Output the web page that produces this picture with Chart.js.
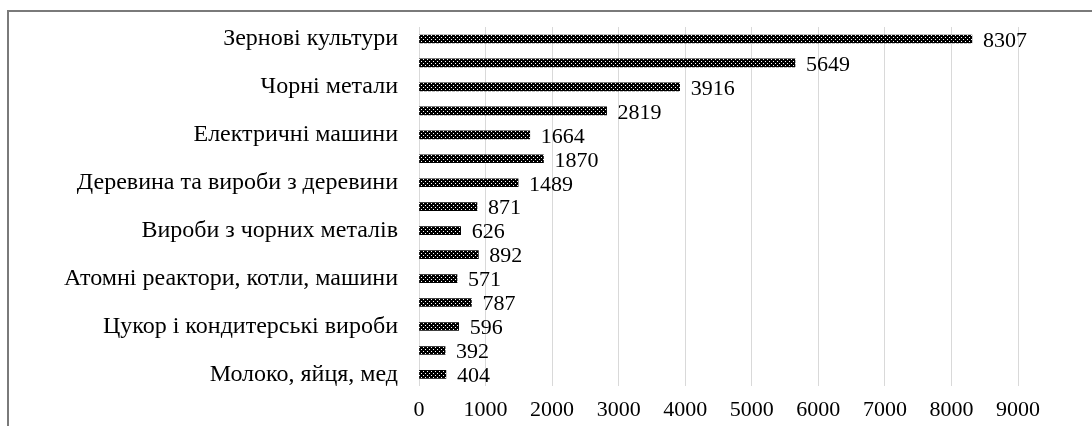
<!DOCTYPE html>
<html>
<head>
<meta charset="utf-8">
<script src="https://cdn.jsdelivr.net/npm/chart.js@4/dist/chart.umd.min.js"></script>
<style>
  html, body { margin: 0; padding: 0; background: #fff; }
  #wrap { position: relative; width: 1092px; height: 426px; }
  #frame { position: absolute; left: 7px; top: 10px; right: 0; bottom: 0;
           border-top: 2px solid #7a7a7a; border-left: 2px solid #7a7a7a; }
  canvas { position: absolute; left: 0; top: 0; }
</style>
</head>
<body>
<div id="wrap">
  <div id="frame"></div>
  <canvas id="c" width="1092" height="426"></canvas>
</div>
<script>
// Category labels (only every other category is labelled in the source)
const categories = [
  'Зернові культури', '',
  'Чорні метали', '',
  'Електричні машини', '',
  'Деревина та вироби з деревини', '',
  'Вироби з чорних металів', '',
  'Атомні реактори, котли, машини', '',
  'Цукор і кондитерські вироби', '',
  'Молоко, яйця, мед'
];
const values = [8307, 5649, 3916, 2819, 1664, 1870, 1489, 871, 626, 892, 571, 787, 596, 392, 404];
const xTicks = [0, 1000, 2000, 3000, 4000, 5000, 6000, 7000, 8000, 9000];

const FONT = "'Liberation Serif', 'Times New Roman', serif";

function makePattern() {
  const p = document.createElement('canvas');
  p.width = 4; p.height = 4;
  const g = p.getContext('2d');
  g.fillStyle = '#000';
  g.fillRect(0, 0, 4, 4);
  g.fillStyle = '#fff';
  g.fillRect(1, 1, 1, 1);
  g.fillRect(3, 3, 1, 1);
  return document.getElementById('c').getContext('2d').createPattern(p, 'repeat');
}

const valueLabels = {
  id: 'valueLabels',
  afterDatasetsDraw(chart) {
    const ctx = chart.ctx;
    const meta = chart.getDatasetMeta(0);
    ctx.save();
    ctx.font = '22px ' + FONT;
    ctx.fillStyle = '#000';
    ctx.textAlign = 'left';
    ctx.textBaseline = 'middle';
    meta.data.forEach((bar, i) => {
      ctx.fillText(String(values[i]), bar.x + 11, bar.y + 2);
    });
    ctx.restore();
  }
};

new Chart(document.getElementById('c'), {
  type: 'bar',
  data: {
    labels: categories,
    datasets: [{
      data: values,
      backgroundColor: makePattern(),
      borderWidth: 0,
      barThickness: 8
    }]
  },
  options: {
    indexAxis: 'y',
    responsive: false,
    animation: false,
    devicePixelRatio: 1,
    layout: { padding: { top: 27, right: 74, bottom: 0, left: 0 } },
    plugins: { legend: { display: false }, tooltip: { enabled: false } },
    scales: {
      x: {
        min: 0, max: 9000,
        afterBuildTicks(scale) { scale.ticks = xTicks.map(v => ({ value: v })); },
        afterFit(scale) { scale.height = 39.6; scale.paddingLeft = 0; scale.paddingRight = 0; },
        grid: { color: '#d9d9d9', lineWidth: 1, drawTicks: false },
        border: { display: false },
        ticks: {
          color: '#000', font: { family: FONT, size: 22 }, padding: 11, maxRotation: 0,
          callback: (v) => String(v)
        }
      },
      y: {
        afterFit(scale) { scale.width = 419; scale.paddingTop = 0; scale.paddingBottom = 0; },
        grid: { display: false, drawTicks: false },
        border: { display: false },
        ticks: { color: '#000', font: { family: FONT, size: 24 }, padding: 21, autoSkip: false }
      }
    }
  },
  plugins: [valueLabels]
});
</script>
</body>
</html>
